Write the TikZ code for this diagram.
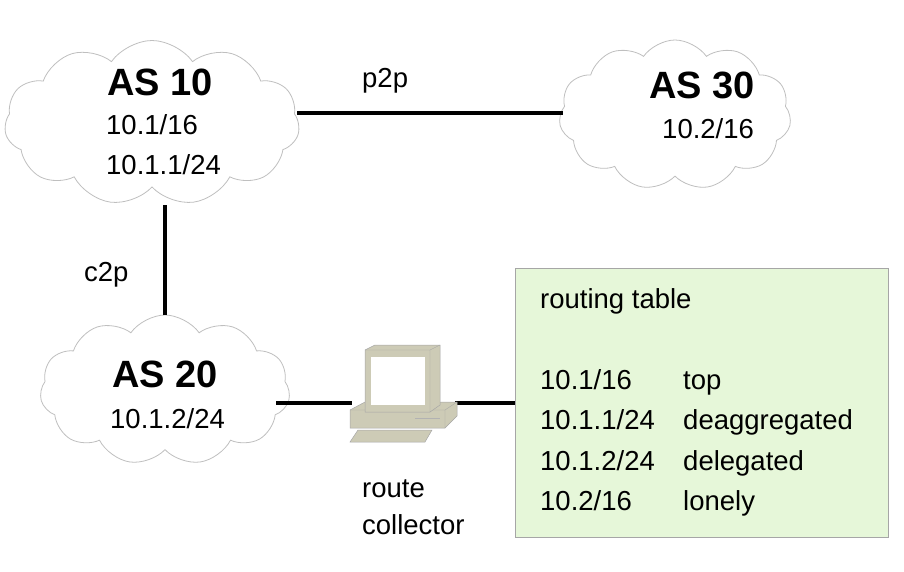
\documentclass[tikz,border=0pt]{standalone}
\usepackage{fontspec}
\setmainfont{Liberation Sans}
\usetikzlibrary{shapes.symbols}
\definecolor{tabfill}{HTML}{E6F7D9}
\begin{document}
\begin{tikzpicture}[x=1pt,y=-1pt,
  cl/.style={cloud, cloud puffs=11, cloud puff arc=110, aspect=1.8, draw=gray!50, line width=0.8pt, fill=white, inner sep=0pt},
  ln/.style={line width=3.2pt},
  big/.style={font=\fontsize{38}{42}\selectfont\bfseries},
  txt/.style={font=\fontsize{27.5}{30}\selectfont, anchor=base west, inner sep=0pt},
  pc/.style={fill=olive!25!gray!45, draw=gray!70, line width=0.5pt}]
\useasboundingbox (0,0) rectangle (904,572);
\node[cl, minimum width=295, minimum height=165] (as10) at (152,123) {};
\node[cl, minimum width=232, minimum height=150] (as30) at (675,115) {};
\node[cl, minimum width=250, minimum height=150] (as20) at (165,390) {};
\node[draw=gray!70, fill=tabfill, line width=0.8pt, minimum width=373, minimum height=269, anchor=north west] (tab) at (515,268) {};
\coordinate (pcl) at (352,403);
\coordinate (pcr) at (455,403);
\draw[ln] (297,113) -- (563,113);
\draw[ln] (165,205) -- (165,315);
\draw[ln] (276,403) -- (pcl);
\draw[ln] (pcr) -- (tab.west |- pcr);
% computer
\path[pc] (350,410) -- (365,402) -- (457,402) -- (457,416) -- (445,428) -- (350,428) -- cycle;
\draw[gray!70] (350,410) -- (445,410) -- (457,402) (445,410) -- (445,428);
\draw[gray!60, line width=1pt] (415,418) -- (440,418);
\path[pc] (365,350) -- (375,345) -- (440,345) -- (440,405) -- (430,412) -- (365,412) -- cycle;
\draw[gray!70] (365,350) -- (430,350) -- (440,345) (430,350) -- (430,412);
\path[fill=white] (371,357) rectangle (425,405);
\path[pc] (358,430) -- (432,430) -- (425,442) -- (350,442) -- cycle;
% labels
\node[big] at (160,82) {AS 10};
\node[txt] at (106,135) {10.1/16};
\node[txt] at (106,175) {10.1.1/24};
\node[big] at (702,85) {AS 30};
\node[txt] at (662,139) {10.2/16};
\node[big] at (165,374) {AS 20};
\node[txt] at (110,428) {10.1.2/24};
\node[txt] at (362,88) {p2p};
\node[txt] at (84,281) {c2p};
\node[txt] at (362,497) {route};
\node[txt] at (362,534) {collector};
\node[txt] at (540,308) {routing table};
\node[txt] at (540,389) {10.1/16};
\node[txt] at (683,389) {top};
\node[txt] at (540,429) {10.1.1/24};
\node[txt] at (683,429) {deaggregated};
\node[txt] at (540,470) {10.1.2/24};
\node[txt] at (683,470) {delegated};
\node[txt] at (540,510) {10.2/16};
\node[txt] at (683,510) {lonely};
\end{tikzpicture}
\end{document}
